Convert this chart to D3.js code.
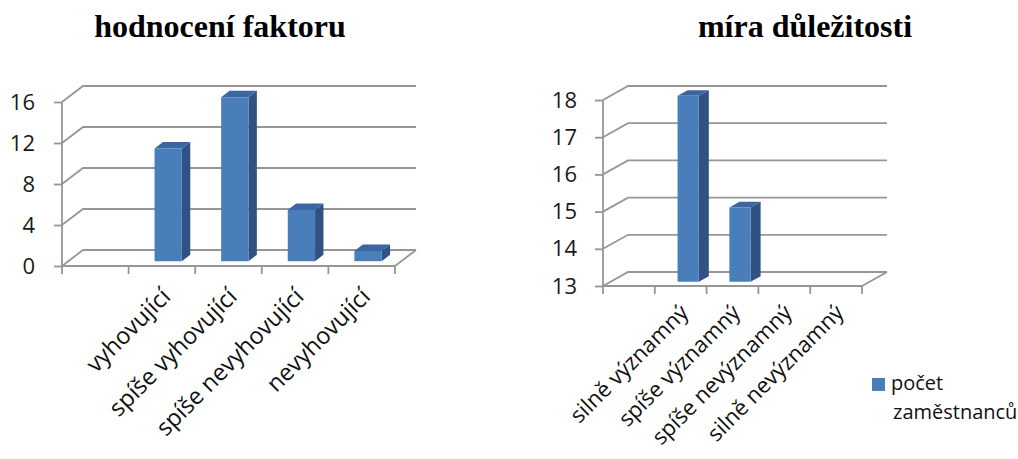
<!DOCTYPE html>
<html>
<head>
<meta charset="utf-8">
<script src="https://cdn.jsdelivr.net/npm/d3@7/dist/d3.min.js"></script>
<style>
  html, body { margin: 0; padding: 0; background: #fff; }
  svg { display: block; }
</style>
</head>
<body>
<svg id="chart" width="1018" height="459"></svg>
<script>
// ---- data ----
const ratingCategories = ["", "vyhovující", "spíše vyhovující", "spíše nevyhovující", "nevyhovující"];
const ratingValues = [null, 11, 16, 5, 1];
const ratingTicks = [0, 4, 8, 12, 16];

const importanceCategories = ["", "silně významný", "spíše významný", "spíše nevýznamný", "silně nevýznamný"];
const importanceValues = [null, 18, 15, 0, 0];
const importanceTicks = [13, 14, 15, 16, 17, 18];

const seriesName = ["počet", "zaměstnanců"];

// ---- styling ----
const GRID = "#969696";
const FRONT = "#4a7ebb";
const SIDE = "#2f5282";
const TOP = "#3b66a2";
const LABEL_FONT = "'Open Sans', 'Noto Sans', sans-serif";

const svg = d3.select("#chart");
svg.append("rect").attr("width", 1018).attr("height", 459).attr("fill", "#fff");

// Draws one pseudo-3D column chart (Excel style: side wall, back wall, floor)
function drawChart(cfg) {
  const g = svg.append("g");
  const x = d3.scaleBand().domain(d3.range(cfg.categories.length))
    .range([cfg.x0, cfg.x1]).paddingInner(0).paddingOuter(0);
  const y = d3.scaleLinear().domain(cfg.domain).range([cfg.yBottom, cfg.yTop]);
  const [dmin, dmax] = cfg.domain;
  // project a point at depth d (0 = front plane, 1 = back wall)
  const P = (px, v, d) => [px + d * cfg.dx, y(v) + d * cfg.dy];

  // back wall gridlines + side wall diagonals
  cfg.ticks.forEach(t => {
    const a = P(cfg.x0, t, 0), b = P(cfg.x0, t, 1), c = P(cfg.x1, t, 1);
    g.append("polyline")
      .attr("points", [a, b, c].map(p => p.join(",")).join(" "))
      .attr("fill", "none").attr("stroke", GRID).attr("stroke-width", 1.8);
  });

  // floor right edge
  const fr0 = P(cfg.x1, dmin, 0), fr1 = P(cfg.x1, dmin, 1);
  g.append("line").attr("x1", fr0[0]).attr("y1", fr0[1]).attr("x2", fr1[0]).attr("y2", fr1[1])
    .attr("stroke", GRID).attr("stroke-width", 1.8);

  // front value axis with ticks
  const yAxis = d3.axisLeft(y).tickValues(cfg.ticks).tickSize(8).tickPadding(cfg.tickPad)
    .tickFormat(d3.format("d"));
  const ya = g.append("g").attr("transform", `translate(${cfg.x0},0)`).call(yAxis);
  ya.select(".domain").attr("stroke", GRID).attr("stroke-width", 1.8)
    .attr("d", `M0,${y(dmax)}V${y(dmin)}`);
  ya.selectAll(".tick line").attr("stroke", GRID).attr("stroke-width", 1.8);
  ya.selectAll(".tick text").attr("fill", "#1a1a1a")
    .style("font-family", LABEL_FONT).style("font-size", cfg.tickFont + "px");

  // front category axis: baseline and boundary ticks
  const xb = y(dmin);
  g.append("line").attr("x1", cfg.x0).attr("x2", cfg.x1).attr("y1", xb).attr("y2", xb)
    .attr("stroke", GRID).attr("stroke-width", 1.8);
  const bounds = d3.range(cfg.categories.length + 1).map(i => cfg.x0 + i * x.step());
  g.selectAll(".xtick").data(bounds).join("line")
    .attr("x1", d => d).attr("x2", d => d).attr("y1", xb).attr("y2", xb + 8)
    .attr("stroke", GRID).attr("stroke-width", 1.8);

  // category labels, rotated
  g.selectAll(".xlab").data(cfg.categories).join("text")
    .attr("transform", (d, i) => `translate(${x(i) + x.step() / 2 + cfg.labDx},${xb + cfg.labDy}) rotate(-45)`)
    .attr("text-anchor", "end")
    .attr("fill", "#111")
    .style("font-family", LABEL_FONT).style("font-size", cfg.catFont + "px")
    .text(d => d);

  // columns
  const bw = x.step() * 0.41;
  const d0 = 0.3, d1 = 0.7;
  cfg.values.forEach((v, i) => {
    if (v == null || v <= dmin) return;
    const cx = x(i) + x.step() / 2;
    const l = cx - bw / 2, r = cx + bw / 2;
    const pts = arr => arr.map(p => p.join(",")).join(" ");
    // side face
    g.append("polygon").attr("fill", SIDE)
      .attr("points", pts([P(r, dmin, d0), P(r, dmin, d1), P(r, v, d1), P(r, v, d0)]));
    // top face
    g.append("polygon").attr("fill", TOP)
      .attr("points", pts([P(l, v, d0), P(r, v, d0), P(r, v, d1), P(l, v, d1)]));
    // front face
    g.append("polygon").attr("fill", FRONT)
      .attr("points", pts([P(l, dmin, d0), P(r, dmin, d0), P(r, v, d0), P(l, v, d0)]));
  });

  // title
  svg.append("text").attr("x", cfg.titleX).attr("y", 37).attr("text-anchor", "middle")
    .style("font-family", "'Liberation Serif', 'Times New Roman', serif")
    .style("font-weight", "bold").style("font-size", "32px").attr("fill", "#000")
    .text(cfg.title);
}

drawChart({
  title: "hodnocení faktoru", titleX: 220,
  categories: ratingCategories, values: ratingValues, ticks: ratingTicks, domain: [0, 16],
  x0: 62, x1: 395, yBottom: 266, yTop: 102, dx: 21, dy: -16,
  tickPad: 19, tickFont: 22, catFont: 23.5, labDx: 10, labDy: 32
});

drawChart({
  title: "míra důležitosti", titleX: 805,
  categories: importanceCategories, values: importanceValues, ticks: importanceTicks, domain: [13, 18],
  x0: 603, x1: 862, yBottom: 286, yTop: 100, dx: 25, dy: -14,
  tickPad: 18, tickFont: 22, catFont: 22, labDx: 9, labDy: 28
});

// legend
const lg = svg.append("g");
lg.append("rect").attr("x", 872).attr("y", 378).attr("width", 13).attr("height", 13).attr("fill", FRONT);
lg.selectAll("text").data(seriesName).join("text")
  .attr("x", (d, i) => i === 0 ? 891 : 893)
  .attr("y", (d, i) => 390 + i * 29)
  .attr("fill", "#111")
  .style("font-family", LABEL_FONT).style("font-size", "20px")
  .text(d => d);
</script>
</body>
</html>
